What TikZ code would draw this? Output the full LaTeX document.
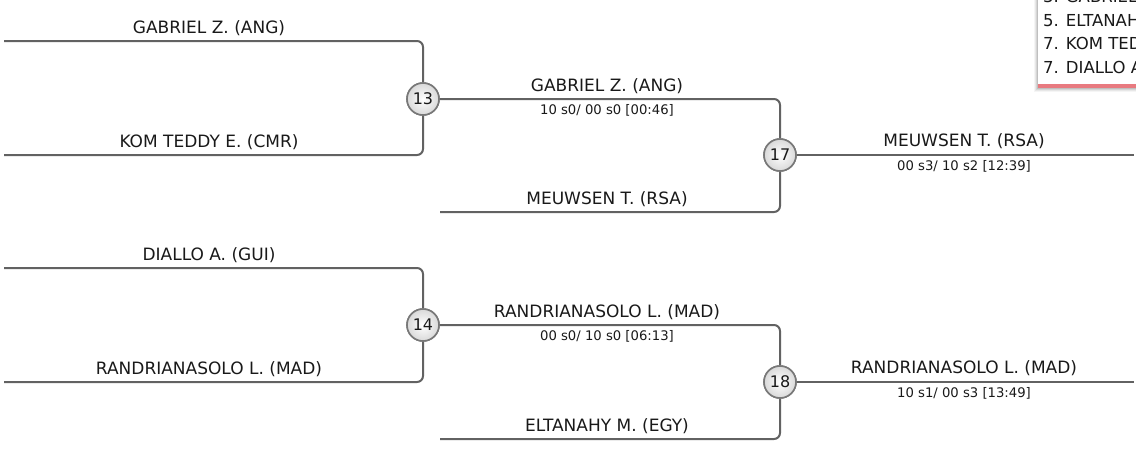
\documentclass[tikz,border=0pt]{standalone}
\usepackage{fontspec}
\setmainfont{DejaVu Sans}
\definecolor{linegray}{RGB}{98,98,98}
\definecolor{circgray}{RGB}{120,120,120}
\definecolor{legendred}{RGB}{232,122,128}
\definecolor{textdark}{RGB}{25,25,25}
\begin{document}
\begin{tikzpicture}[x=1pt,y=-1pt,
  bline/.style={draw=linegray, line width=2pt, rounded corners=6pt},
  match/.style={circle, draw=circgray, line width=1.6pt, inner color=white, outer color=black!15,
    minimum size=32pt, inner sep=0pt, font=\fontsize{16}{16}\selectfont, text=textdark},
  pname/.style={anchor=base, font=\fontsize{17}{17}\selectfont, text=textdark, inner sep=0pt},
  score/.style={anchor=base, font=\fontsize{13.2}{13.2}\selectfont, text=textdark, inner sep=0pt},
  legendtxt/.style={anchor=base west, font=\fontsize{16.5}{16.5}\selectfont, text=textdark, inner sep=0pt}]
\useasboundingbox (0,0) rectangle (1136,451);

% end points
\coordinate (a1) at (4,41);
\coordinate (a2) at (4,155);
\coordinate (a3) at (4,268);
\coordinate (a4) at (4,382);
\coordinate (b2) at (440,212);
\coordinate (b4) at (440,439);
\coordinate (f1) at (1134,155);
\coordinate (f2) at (1134,382);

% match nodes placed first (for names), drawn again on top later
\path (423,99) node[match] (m13) {\phantom{13}};
\path (423,325) node[match] (m14) {\phantom{14}};
\path (780,155) node[match] (m17) {\phantom{17}};
\path (780,382) node[match] (m18) {\phantom{18}};

% connectors
\draw[bline] (a1) -| (m13);
\draw[bline] (a2) -| (m13);
\draw[bline] (a3) -| (m14);
\draw[bline] (a4) -| (m14);
\draw[bline] (m13) -| (m17);
\draw[bline] (b2) -| (m17);
\draw[bline] (m14) -| (m18);
\draw[bline] (b4) -| (m18);
\draw[bline] (m17) -- (f1);
\draw[bline] (m18) -- (f2);

% match circles on top
\node[match] at (m13) {13};
\node[match] at (m14) {14};
\node[match] at (m17) {17};
\node[match] at (m18) {18};

% round 1 names
\node[pname] (n1) at (209,33) {GABRIEL Z. (ANG)};
\node[pname] (n2) at (209,147) {KOM TEDDY E. (CMR)};
\node[pname] (n3) at (209,260) {DIALLO A. (GUI)};
\node[pname] (n4) at (209,374) {RANDRIANASOLO L. (MAD)};

% round 2 names and scores
\node[pname] (n5) at (607,91) {GABRIEL Z. (ANG)};
\node[score] (s5) at (607,114) {10 s0/ 00 s0 [00:46]};
\node[pname] (n6) at (607,204) {MEUWSEN T. (RSA)};
\node[pname] (n7) at (607,317) {RANDRIANASOLO L. (MAD)};
\node[score] (s7) at (607,340) {00 s0/ 10 s0 [06:13]};
\node[pname] (n8) at (607,431) {ELTANAHY M. (EGY)};

% round 3 names and scores
\node[pname] (n9) at (964,146) {MEUWSEN T. (RSA)};
\node[score] (s9) at (964,170) {00 s3/ 10 s2 [12:39]};
\node[pname] (n10) at (964,373) {RANDRIANASOLO L. (MAD)};
\node[score] (s10) at (964,397) {10 s1/ 00 s3 [13:49]};

% legend box (cut by picture edge, as in the reference)
\begin{scope}
  \clip (0,0) rectangle (1136,451);
  \foreach \d/\o in {4/0.04,3/0.06,2/0.08,1/0.10}{
    \fill[black, opacity=\o] (1038-\d,-20) rectangle (1150,88+\d);
  }
  \fill[white] (1038,-20) rectangle (1150,84);
  \fill[legendred] (1038,84) rectangle (1150,88);
  \node[legendtxt] (l1) at (1043,2.5) {3. GABRIEL Z. (ANG)};
  \node[legendtxt] (l2) at (1043,26) {5. ELTANAHY M. (EGY)};
  \node[legendtxt] (l3) at (1043,49.5) {7. KOM TEDDY E. (CMR)};
  \node[legendtxt] (l4) at (1043,73) {7. DIALLO A. (GUI)};
\end{scope}
\end{tikzpicture}
\end{document}
